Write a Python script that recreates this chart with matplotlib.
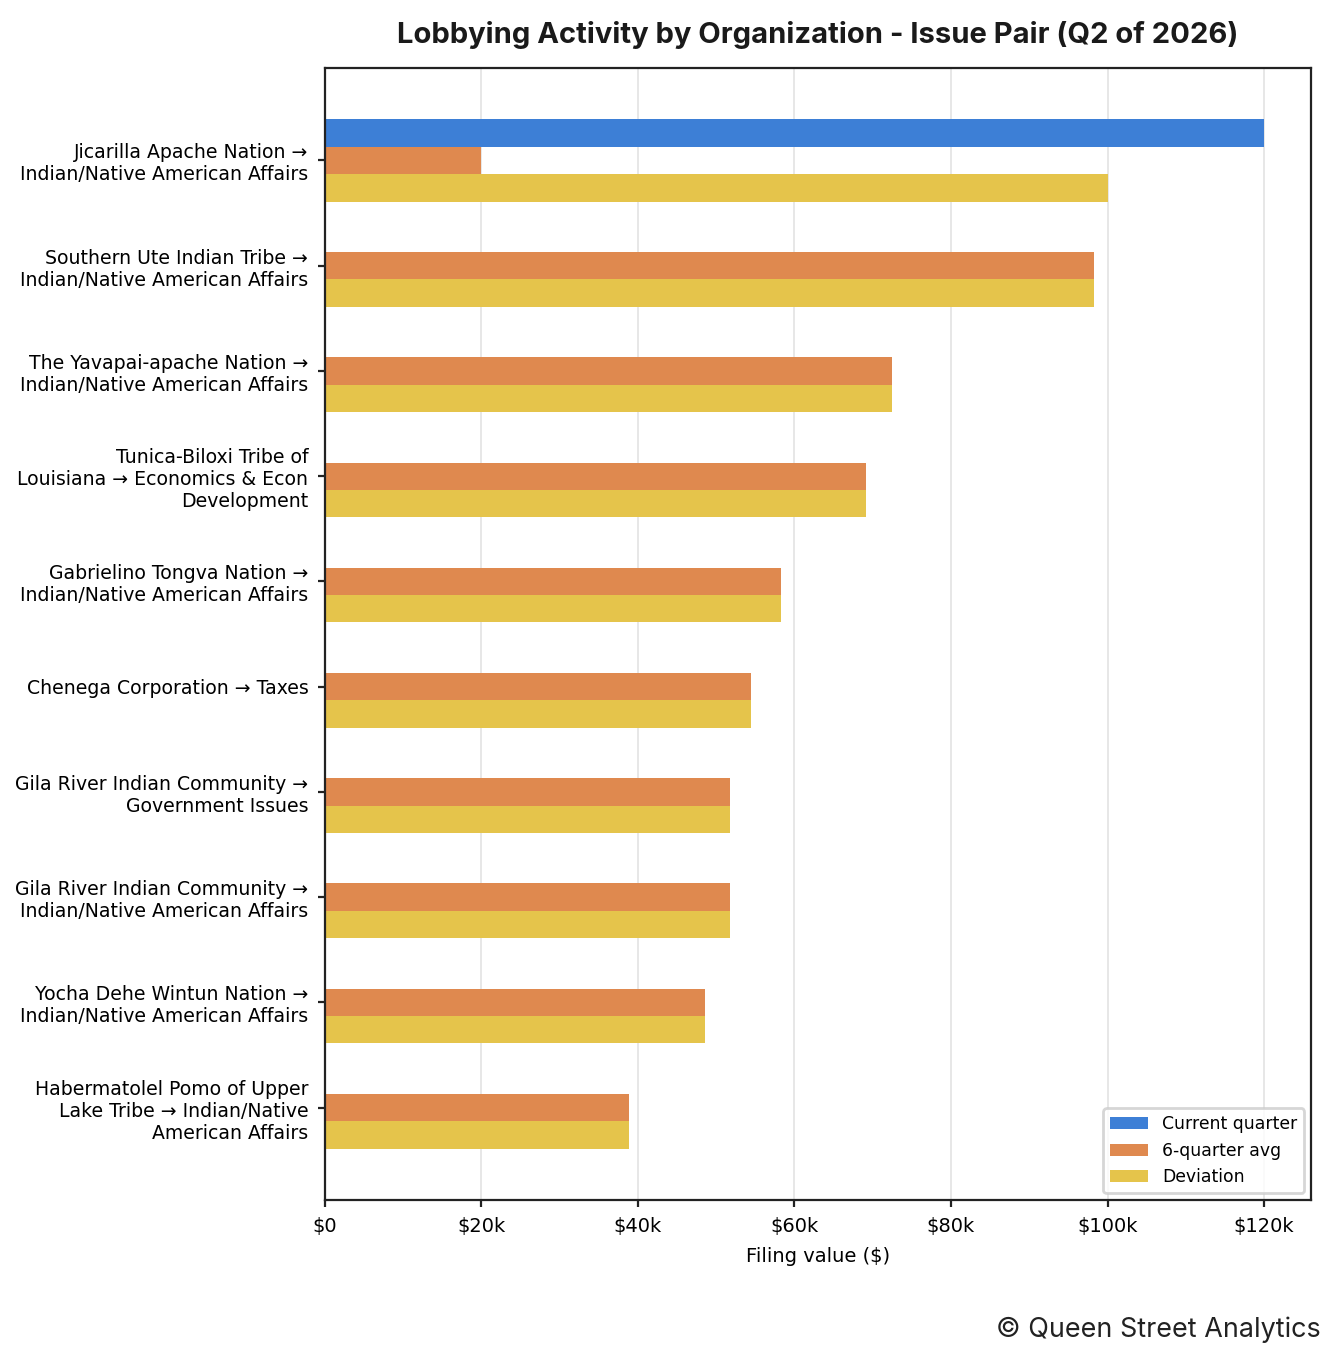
import matplotlib
matplotlib.use('Agg')
import matplotlib.pyplot as plt
import matplotlib.ticker as ticker
import numpy as np

plt.rcParams['font.family'] = ['DejaVu Sans']

labels = [
    'Jicarilla Apache Nation →\nIndian/Native American Affairs',
    'Southern Ute Indian Tribe →\nIndian/Native American Affairs',
    'The Yavapai-apache Nation →\nIndian/Native American Affairs',
    'Tunica-Biloxi Tribe of\nLouisiana → Economics & Econ\nDevelopment',
    'Gabrielino Tongva Nation →\nIndian/Native American Affairs',
    'Chenega Corporation → Taxes',
    'Gila River Indian Community →\nGovernment Issues',
    'Gila River Indian Community →\nIndian/Native American Affairs',
    'Yocha Dehe Wintun Nation →\nIndian/Native American Affairs',
    'Habermatolel Pomo of Upper\nLake Tribe → Indian/Native\nAmerican Affairs',
]
current_quarter = [120000, 0, 0, 0, 0, 0, 0, 0, 0, 0]
six_quarter_avg = [20000, 98300, 72500, 69200, 58300, 54500, 51700, 51700, 48600, 38900]
deviation = [100000, 98300, 72500, 69200, 58300, 54500, 51700, 51700, 48600, 38900]

fig = plt.figure(figsize=(6.675, 6.8), dpi=200)
ax = fig.add_axes([0.2434, 0.1176, 0.7386, 0.8324])

y = np.arange(len(labels))
h = 0.26
ax.barh(y - h, current_quarter, height=h, color='#3d7fd6', label='Current quarter', zorder=2)
ax.barh(y, six_quarter_avg, height=h, color='#df894f', label='6-quarter avg', zorder=2)
ax.barh(y + h, deviation, height=h, color='#e5c44b', label='Deviation', zorder=2)

ax.set_yticks(y)
ax.set_yticklabels(labels, fontsize=6.8)
ax.invert_yaxis()
ax.set_xlim(0, 126000)
ax.xaxis.set_major_locator(ticker.MultipleLocator(20000))
ax.xaxis.set_major_formatter(ticker.FuncFormatter(
    lambda v, p: '$0' if v == 0 else f'${int(v / 1000)}k'))
ax.tick_params(axis='x', labelsize=7, length=2.5, width=0.8, color='#222222')
ax.tick_params(axis='y', length=2.5, width=0.8, color='#222222')
ax.grid(axis='x', color='#e3e3e3', linewidth=0.6, zorder=0)
ax.set_axisbelow(True)
for s in ax.spines.values():
    s.set_color('#222222')
    s.set_linewidth(0.8)

ax.set_xlabel('Filing value ($)', fontsize=7)
ax.set_title('Lobbying Activity by Organization - Issue Pair (Q2 of 2026)',
             fontsize=10.5, fontweight='bold', family='Inter', color='#1a1a1a', pad=9)
ax.legend(loc='lower right', fontsize=6.2, frameon=True, edgecolor='#cccccc',
          handlelength=2.2, borderaxespad=0.4)

fig.text(0.989, 0.022, '© Queen Street Analytics', ha='right', va='center',
         fontsize=9.7, family='Inter', color='#222222')

fig.savefig('out.png', dpi=200)
